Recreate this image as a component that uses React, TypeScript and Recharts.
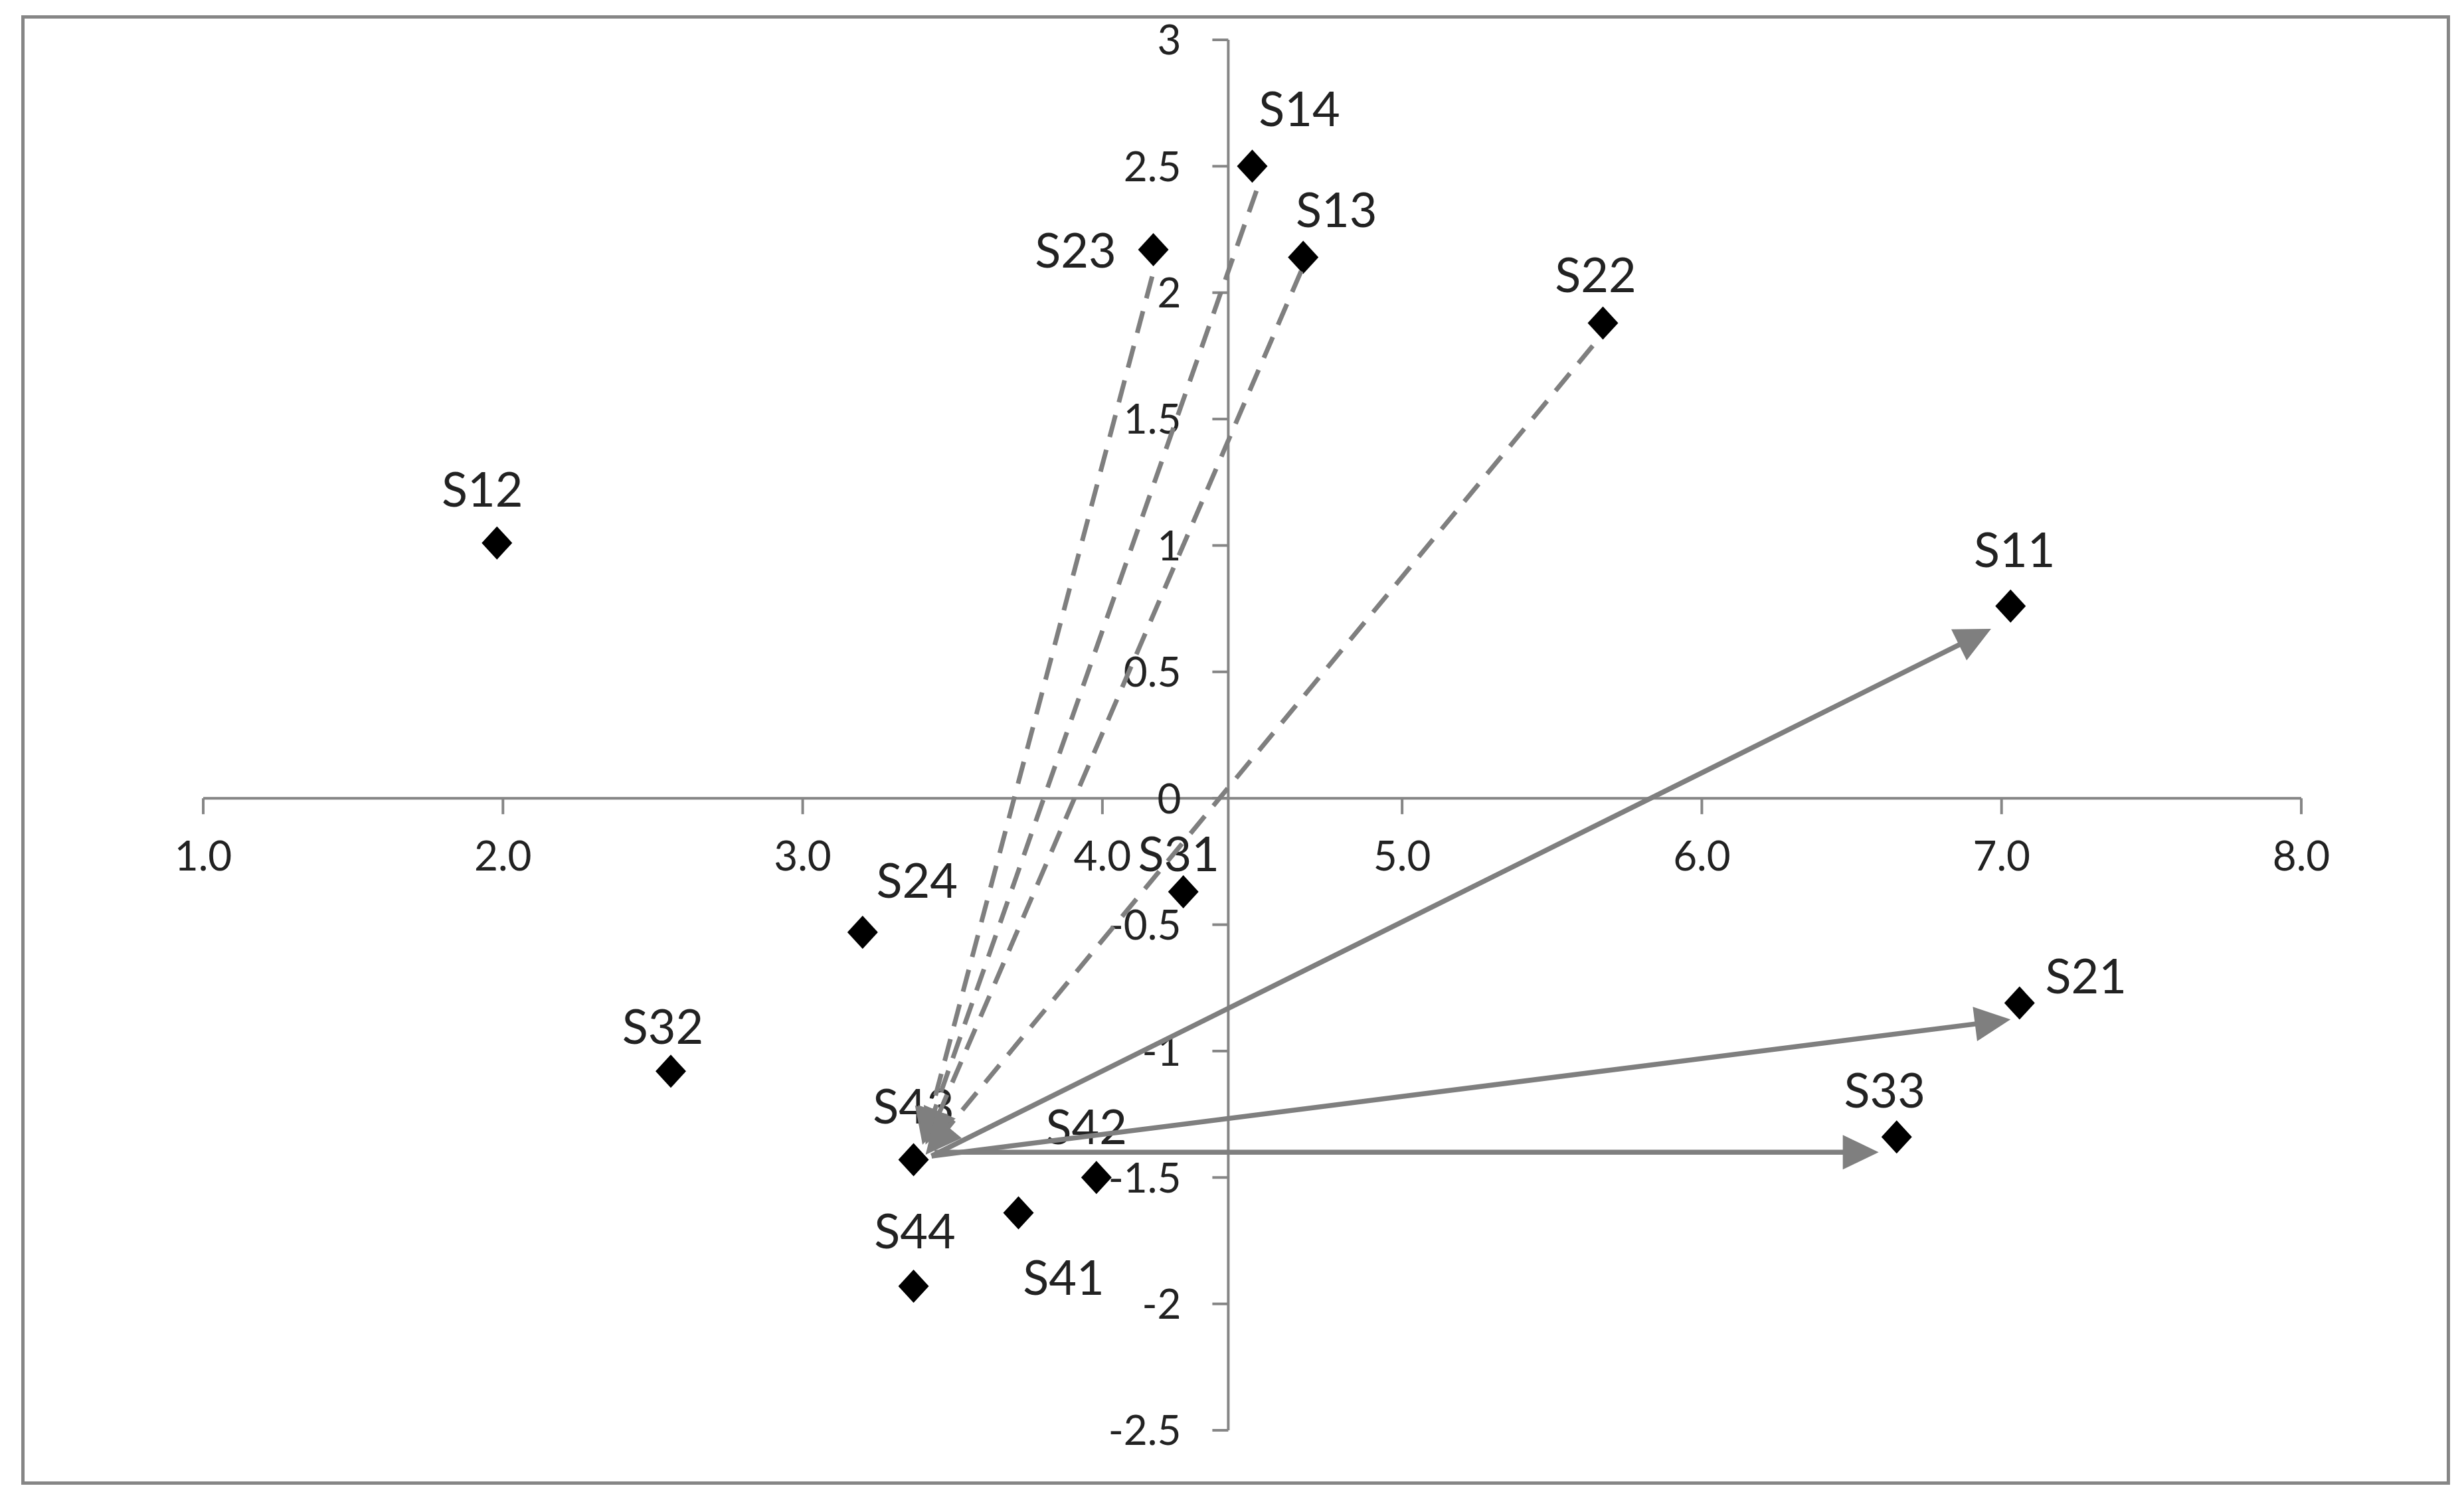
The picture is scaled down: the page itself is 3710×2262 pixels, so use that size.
import { ScatterChart, Scatter, XAxis, YAxis, ReferenceLine } from 'recharts';

// points
const names = ['S11', 'S12', 'S13', 'S14', 'S21', 'S22', 'S23', 'S24', 'S31', 'S32', 'S33', 'S41', 'S42', 'S43', 'S44'];
const xValues = [7.03, 1.98, 4.67, 4.5, 7.06, 5.67, 4.17, 3.2, 4.27, 2.56, 6.65, 3.72, 3.98, 3.37, 3.37];
const yValues = [0.76, 1.01, 2.14, 2.5, -0.81, 1.88, 2.17, -0.53, -0.37, -1.08, -1.34, -1.64, -1.5, -1.43, -1.93];

const xTicks = [1, 2, 3, 4, 5, 6, 7, 8];
const yTicks = [3, 2.5, 2, 1.5, 1, 0.5, 0, -0.5, -1, -1.5, -2, -2.5];
const yAxisCrossesAt = 4.42;

// dashed arrows: upper points -> S43
const dashedFromX = [4.166, 4.514, 4.663, 5.636];
const dashedFromY = [2.064, 2.403, 2.085, 1.79];
const dashedToX = [3.4, 3.4, 3.41, 3.41];
const dashedToY = [-1.37, -1.37, -1.37, -1.41];

// solid arrows: S43 -> S11, S21, S33
const solidFromX = [3.43, 3.43, 3.44];
const solidFromY = [-1.415, -1.415, -1.4];
const solidToX = [6.965, 7.03, 6.59];
const solidToY = [0.67, -0.875, -1.4];

// label placement around each marker, px (centre of the text)
const labelOffset: Record<string, [number, number]> = {
  S11: [6, -85],
  S12: [-22, -81],
  S13: [50, -71],
  S14: [71, -86],
  S21: [100, -40],
  S22: [-11, -72],
  S23: [-117, 1],
  S24: [82, -78],
  S31: [-7, -57],
  S32: [-12, -67],
  S33: [-18, -70],
  S41: [68, 98],
  S42: [-15, -76],
  S43: [0, -81],
  S44: [2, -83],
};

const AXIS = '#868686';
const ARROW = '#7f7f7f';
const TEXT = '#222222';
const FONT = 'Lato, "Open Sans", sans-serif';
const LABEL_SIZE = 72;
const TICK_SIZE = 62;

const points = names.map((name, i) => ({ name, x: xValues[i], y: yValues[i] }));
const xTickData = xTicks.map((v) => ({ x: v, y: 0 }));
const yTickData = yTicks.map((v) => ({ x: yAxisCrossesAt, y: v }));

const arrows = [
  ...dashedFromX.map((_, i) => ({
    dashed: true,
    data: [
      { x: dashedFromX[i], y: dashedFromY[i] },
      { x: dashedToX[i], y: dashedToY[i] },
    ],
  })),
  ...solidFromX.map((_, i) => ({
    dashed: false,
    data: [
      { x: solidFromX[i], y: solidFromY[i] },
      { x: solidToX[i], y: solidToY[i] },
    ],
  })),
];

const Diamond = (props: any) => {
  const { cx, cy, payload } = props;
  const [dx, dy] = labelOffset[payload.name] || [0, -80];
  return (
    <g>
      <path d={`M${cx},${cy - 25} L${cx + 23},${cy} L${cx},${cy + 25} L${cx - 23},${cy} Z`} fill="#000" />
      <text
        x={cx + dx}
        y={cy + dy + LABEL_SIZE * 0.36}
        textAnchor="middle"
        fontFamily={FONT}
        fontSize={LABEL_SIZE}
        fill={TEXT}
      >
        {payload.name}
      </text>
    </g>
  );
};

const XTick = (props: any) => {
  const { cx, cy, payload } = props;
  return (
    <g>
      <line x1={cx} y1={cy} x2={cx} y2={cy + 24} stroke={AXIS} strokeWidth={4} />
      <text x={cx} y={cy + 86 + TICK_SIZE * 0.36} textAnchor="middle" fontFamily={FONT} fontSize={TICK_SIZE} fill={TEXT}>
        {payload.x.toFixed(1)}
      </text>
    </g>
  );
};

const YTick = (props: any) => {
  const { cx, cy, payload } = props;
  return (
    <g>
      <line x1={cx - 24} y1={cy} x2={cx} y2={cy} stroke={AXIS} strokeWidth={4} />
      <text x={cx - 71} y={cy + TICK_SIZE * 0.36} textAnchor="end" fontFamily={FONT} fontSize={TICK_SIZE} fill={TEXT}>
        {String(payload.y)}
      </text>
    </g>
  );
};

const arrowLine = (dashed: boolean) => (props: any) => {
  const pts = props.points;
  if (!pts || pts.length < 2) return <g />;
  const a = pts[0];
  const b = pts[1];
  const len = Math.hypot(b.x - a.x, b.y - a.y);
  const ux = (b.x - a.x) / len;
  const uy = (b.y - a.y) / len;
  const headLen = 54;
  const headW = 26;
  const bx = b.x - ux * headLen;
  const by = b.y - uy * headLen;
  return (
    <g>
      <line
        x1={a.x}
        y1={a.y}
        x2={bx + ux * 4}
        y2={by + uy * 4}
        stroke={ARROW}
        strokeWidth={dashed ? 7 : 7.5}
        strokeDasharray={dashed ? '34 20' : undefined}
      />
      <polygon
        points={`${b.x},${b.y} ${bx - uy * headW},${by + ux * headW} ${bx + uy * headW},${by - ux * headW}`}
        fill={ARROW}
      />
    </g>
  );
};

const Empty = () => <g />;

export default function App() {
  return (
    <div style={{ position: 'absolute', left: 0, top: 0, width: 3710, height: 2262, background: '#fff' }}>
      <div
        style={{
          position: 'absolute',
          left: 32,
          top: 23,
          width: 3657,
          height: 2213,
          border: `5px solid ${AXIS}`,
          boxSizing: 'border-box',
        }}
      />
      <div style={{ position: 'absolute', left: 0, top: 0 }}>
        <ScatterChart width={3710} height={2262} margin={{ top: 60, right: 245, bottom: 108, left: 306 }}>
          <XAxis type="number" dataKey="x" domain={[1, 8]} ticks={xTicks} hide />
          <YAxis type="number" dataKey="y" domain={[-2.5, 3]} ticks={yTicks} hide />
          <ReferenceLine y={0} stroke={AXIS} strokeWidth={4} />
          <ReferenceLine x={yAxisCrossesAt} stroke={AXIS} strokeWidth={4} />
          <Scatter data={xTickData} shape={XTick} isAnimationActive={false} />
          <Scatter data={yTickData} shape={YTick} isAnimationActive={false} />
          <Scatter data={points} shape={Diamond} isAnimationActive={false} />
          {arrows.map((a, i) => (
            <Scatter
              key={`arrow-${i}`}
              data={a.data}
              shape={Empty}
              line={arrowLine(a.dashed)}
              lineType="joint"
              isAnimationActive={false}
            />
          ))}
        </ScatterChart>
      </div>
    </div>
  );
}
